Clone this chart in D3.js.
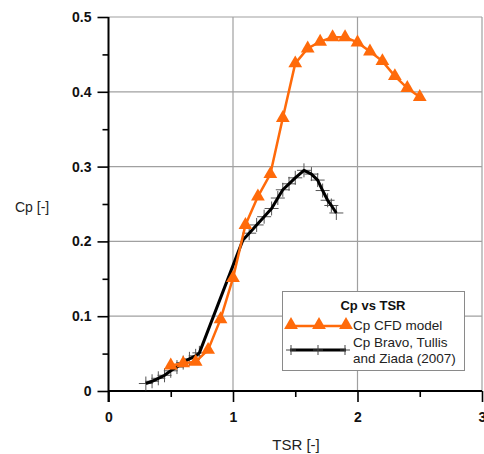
<!DOCTYPE html>
<html>
<head>
<meta charset="utf-8">
<script src="https://cdn.jsdelivr.net/npm/d3@7"></script>
<style>
  body { margin: 0; background: #fff; }
  text { font-family: Arial, "Liberation Sans", sans-serif; }
</style>
</head>
<body>
<div id="chart"></div>
<script>
// CFD model results
const cfdTsr = [0.5, 0.6, 0.7, 0.8, 0.9, 1.0, 1.1, 1.2, 1.3, 1.4, 1.5, 1.6, 1.7, 1.8, 1.9, 2.0, 2.1, 2.2, 2.3, 2.4, 2.5];
const cfdCp = [0.034, 0.037, 0.039, 0.055, 0.096, 0.151, 0.222, 0.260, 0.290, 0.365, 0.438, 0.458, 0.467, 0.473, 0.473, 0.466, 0.454, 0.441, 0.421, 0.405, 0.393];

// Bravo, Tullis and Ziada (2007) experiment
const expTsr = [0.30, 0.35, 0.40, 0.45, 0.50, 0.55, 0.60, 0.65, 0.70, 0.73, 1.04, 1.08, 1.13, 1.19, 1.25, 1.31, 1.36, 1.40, 1.45, 1.50, 1.57, 1.63, 1.68, 1.72, 1.76, 1.79, 1.83];
const expCp = [0.010, 0.013, 0.017, 0.021, 0.027, 0.032, 0.038, 0.043, 0.047, 0.051, 0.185, 0.202, 0.211, 0.222, 0.233, 0.244, 0.258, 0.269, 0.277, 0.285, 0.295, 0.290, 0.282, 0.268, 0.255, 0.248, 0.238];
// which experimental points carry a marker
const expMarked = expTsr.map(t => t < 1.0 || t > 1.1);

const xTicks = [0, 1, 2, 3];
const yTicks = [0, 0.1, 0.2, 0.3, 0.4, 0.5];

const W = 484, H = 454;
const pLeft = 108.5, pRight = 482, pTop = 17, pBottom = 391;

const svg = d3.select('#chart').append('svg')
    .attr('width', W)
    .attr('height', H);

const x = d3.scaleLinear().domain([0, 3]).range([pLeft, pRight]);
const y = d3.scaleLinear().domain([0, 0.5]).range([pBottom, pTop]);

// grid
const grid = svg.append('g').attr('stroke', '#a0a0a0').attr('stroke-width', 1.2);
grid.selectAll('.gx').data(xTicks.slice(1)).enter().append('line')
    .attr('x1', d => x(d)).attr('x2', d => x(d))
    .attr('y1', pTop).attr('y2', pBottom);
grid.selectAll('.gy').data(yTicks.slice(1)).enter().append('line')
    .attr('x1', pLeft).attr('x2', pRight)
    .attr('y1', d => y(d)).attr('y2', d => y(d));

// axes
const xAxis = svg.append('g')
    .attr('transform', `translate(0,${pBottom})`)
    .call(d3.axisBottom(x).tickValues(xTicks).tickSize(11).tickPadding(10).tickFormat(d3.format('d')));
svg.append('g')
    .attr('transform', `translate(0,${pBottom})`)
    .call(d3.axisBottom(x).tickValues([0.5, 1.5, 2.5]).tickSize(6).tickFormat(''))
    .select('.domain').remove();

const yAxis = svg.append('g')
    .attr('transform', `translate(${pLeft},0)`)
    .call(d3.axisLeft(y).tickValues(yTicks).tickSize(11).tickPadding(6).tickFormat(d => d === 0 ? '0' : d3.format('.1f')(d)));
svg.append('g')
    .attr('transform', `translate(${pLeft},0)`)
    .call(d3.axisLeft(y).tickValues([0.05, 0.15, 0.25, 0.35, 0.45]).tickSize(6).tickFormat(''))
    .select('.domain').remove();

svg.selectAll('.domain').attr('stroke', '#000').attr('stroke-width', 2);
svg.selectAll('.tick line').attr('stroke', '#000').attr('stroke-width', 1.6);
svg.selectAll('.tick text')
    .attr('font-size', 14)
    .attr('font-weight', 'bold')
    .attr('fill', '#111')
    .attr('font-family', 'Arial, "Liberation Sans", sans-serif');
xAxis.selectAll('.domain').attr('d', `M${pLeft},0H${pRight}`);
yAxis.selectAll('.domain').attr('d', `M0,${pBottom + 11}V${pTop}`);

// axis titles
svg.append('text')
    .attr('x', 296).attr('y', 450)
    .attr('text-anchor', 'middle')
    .attr('font-size', 15)
    .attr('fill', '#222')
    .text('TSR [-]');
svg.append('text')
    .attr('x', 15).attr('y', 212)
    .attr('font-size', 14)
    .attr('fill', '#222')
    .text('Cp [-]');

const orange = '#ff6a0a';
const line = d3.line().x(d => x(d[0])).y(d => y(d[1]));
const tri = d3.symbol().type(d3.symbolTriangle).size(82);

function plusPath(cx, cy, r) {
    return `M${cx - r},${cy}H${cx + r}M${cx},${cy - r}V${cy + r}`;
}

// experimental series
const expData = expTsr.map((t, i) => [t, expCp[i], expMarked[i]]);
svg.append('g').selectAll('path').data(expData.filter(d => d[2])).enter().append('path')
    .attr('d', d => plusPath(x(d[0]), y(d[1]), 7))
    .attr('stroke', '#555')
    .attr('stroke-width', 1)
    .attr('fill', 'none');
svg.append('path')
    .datum(expData)
    .attr('d', line)
    .attr('fill', 'none')
    .attr('stroke', '#000')
    .attr('stroke-width', 3)
    .attr('stroke-linejoin', 'round');

// CFD series
const cfdData = cfdTsr.map((t, i) => [t, cfdCp[i]]);
svg.append('path')
    .datum(cfdData)
    .attr('d', line)
    .attr('fill', 'none')
    .attr('stroke', orange)
    .attr('stroke-width', 2.5);
svg.append('g').selectAll('path').data(cfdData).enter().append('path')
    .attr('transform', d => `translate(${x(d[0])},${y(d[1])})`)
    .attr('d', tri)
    .attr('fill', orange);

// legend
const lg = svg.append('g');
lg.append('rect')
    .attr('x', 282.5).attr('y', 291.5)
    .attr('width', 182).attr('height', 79)
    .attr('fill', '#fff')
    .attr('stroke', '#8a8a8a')
    .attr('stroke-width', 1);
lg.append('text')
    .attr('x', 373).attr('y', 310)
    .attr('text-anchor', 'middle')
    .attr('font-size', 13)
    .attr('font-weight', 'bold')
    .attr('fill', '#111')
    .text('Cp vs TSR');
lg.append('line')
    .attr('x1', 287).attr('x2', 348).attr('y1', 326).attr('y2', 326)
    .attr('stroke', orange).attr('stroke-width', 2.5);
lg.selectAll('.lt').data([291, 319, 346]).enter().append('path')
    .attr('transform', d => `translate(${d},325)`)
    .attr('d', tri)
    .attr('fill', orange);
lg.append('text')
    .attr('x', 353).attr('y', 330)
    .attr('font-size', 13.5)
    .attr('fill', '#222')
    .text('Cp CFD model');
lg.append('line')
    .attr('x1', 290).attr('x2', 346).attr('y1', 350).attr('y2', 350)
    .attr('stroke', '#000').attr('stroke-width', 3);
lg.selectAll('.lp').data([291, 318, 345]).enter().append('path')
    .attr('d', d => plusPath(d, 350, 5))
    .attr('stroke', '#444').attr('stroke-width', 1);
lg.append('text')
    .attr('x', 353).attr('y', 347)
    .attr('font-size', 13.5)
    .attr('fill', '#222')
    .text('Cp Bravo, Tullis');
lg.append('text')
    .attr('x', 353).attr('y', 363)
    .attr('font-size', 13.5)
    .attr('fill', '#222')
    .text('and Ziada (2007)');
</script>
</body>
</html>
